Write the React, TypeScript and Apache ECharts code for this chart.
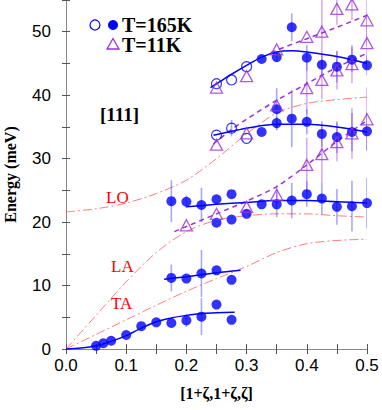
import React, { useEffect, useRef } from "react";
import * as echarts from "echarts";

// [x, energy, error]
const openCircles165K = [
  [0.25, 41.8, 0], [0.275, 42.4, 0], [0.3, 44.5, 0],
  [0.25, 33.7, 0], [0.275, 34.8, 1.3], [0.3, 33.2, 0],
];
const filledUpper165K = [
  [0.325, 45.7, 0], [0.35, 46.0, 0.8], [0.375, 50.7, 2.2], [0.4, 45.9, 2.0],
  [0.425, 44.8, 1.5], [0.45, 44.5, 2.5], [0.475, 45.6, 2.0], [0.5, 44.7, 1.5],
];
const filledMiddle165K = [
  [0.325, 34.2, 0], [0.35, 35.6, 1.0], [0.35, 37.8, 3.3], [0.375, 36.3, 4.5],
  [0.4, 35.8, 2.0], [0.425, 33.9, 2.0], [0.45, 33.4, 2.5], [0.475, 34.2, 3.0], [0.5, 34.3, 3.0],
];
const filledLO165K = [
  [0.175, 23.3, 3.3], [0.2, 23.2, 1.0], [0.225, 22.7, 2.7], [0.25, 23.6, 0], [0.275, 24.4, 0],
  [0.25, 19.9, 0], [0.275, 20.4, 0], [0.3, 21.3, 0], [0.325, 22.8, 0], [0.35, 22.8, 2.0],
  [0.375, 23.4, 2.8], [0.4, 24.4, 2.0], [0.425, 23.7, 2.5], [0.45, 22.4, 2.8], [0.475, 22.5, 4.0],
  [0.5, 23.0, 4.0],
];
const filledLA165K = [
  [0.175, 11.2, 2.1], [0.2, 11.1, 0], [0.225, 11.9, 3.7], [0.25, 12.4, 0], [0.275, 10.9, 0],
];
const filledTA165K = [
  [0.05, 0.5, 0], [0.062, 0.9, 0], [0.075, 1.3, 0], [0.1, 2.2, 0], [0.125, 3.6, 0],
  [0.15, 4.2, 0], [0.175, 4.1, 0], [0.2, 4.5, 1.0], [0.225, 5.1, 2.9], [0.25, 7.0, 0], [0.275, 4.6, 0],
];
const triangles11K = [
  [0.2, 19.5, 0], [0.25, 21.3, 0], [0.3, 22.4, 0], [0.35, 24.3, 1.5], [0.4, 29.0, 4.3],
  [0.425, 30.7, 4.5], [0.45, 32.6, 3.0], [0.475, 34.0, 4.0], [0.5, 36.2, 5.0],
  [0.25, 32.2, 0], [0.3, 34.0, 0], [0.35, 38.4, 0], [0.4, 41.1, 4.0], [0.425, 42.4, 3.0],
  [0.45, 43.9, 3.0], [0.475, 44.9, 3.0], [0.5, 48.2, 4.0],
  [0.25, 41.2, 0], [0.3, 43.0, 0], [0.35, 47.2, 0], [0.4, 49.2, 0], [0.425, 50.0, 5.5],
  [0.45, 53.6, 2.5], [0.475, 54.3, 2.5], [0.5, 51.8, 4.0],
];

// fitted curves
const fitUpper = [[0.24, 41.2], [0.25, 41.8], [0.275, 43.3], [0.3, 44.7], [0.325, 46.0], [0.35, 46.8], [0.375, 47.0], [0.4, 46.8], [0.45, 46.1], [0.5, 45.0]];
const fitMiddle = [[0.245, 33.7], [0.275, 34.3], [0.3, 34.8], [0.35, 35.4], [0.4, 35.4], [0.45, 35.0], [0.5, 34.2]];
const fitLO = [[0.2, 22.4], [0.25, 22.8], [0.3, 23.1], [0.35, 23.4], [0.4, 23.4], [0.45, 23.2], [0.5, 23.0]];
const fitLA = [[0.163, 11.0], [0.2, 11.4], [0.25, 12.0], [0.29, 12.4]];
const fitTA = [[0, 0], [0.025, 0.15], [0.05, 0.5], [0.075, 1.2], [0.1, 2.1], [0.125, 3.3], [0.15, 4.3], [0.175, 4.9], [0.2, 5.3], [0.225, 5.6], [0.25, 5.7], [0.28, 5.8]];

const dashLow11K = [[0.18, 18.5], [0.2, 19.3], [0.25, 21.3], [0.3, 23.3], [0.35, 25.6], [0.4, 29.0], [0.45, 32.7], [0.5, 36.0]];
const dashMid11K = [[0.245, 32.3], [0.275, 34.6], [0.3, 36.2], [0.35, 39.2], [0.4, 41.8], [0.45, 44.4], [0.5, 46.6]];
const dashTop11K = [[0.34, 46.7], [0.35, 47.1], [0.4, 48.9], [0.45, 50.7], [0.5, 52.6]];

// model dispersions
const modelTA = [[0, 0], [0.05, 2.3], [0.1, 4.6], [0.15, 6.9], [0.2, 9.1], [0.25, 11.1], [0.3, 13.0], [0.35, 15.2], [0.4, 16.6], [0.45, 17.1], [0.5, 17.3]];
const modelLA = [[0, 0], [0.05, 5.3], [0.1, 10.6], [0.15, 15.2], [0.2, 18.5], [0.25, 20.3], [0.3, 21.0], [0.35, 21.3], [0.4, 21.3], [0.45, 21.0], [0.5, 20.8]];
const modelLO = [[0, 21.6], [0.05, 22.1], [0.1, 23.0], [0.15, 24.5], [0.2, 26.6], [0.25, 30.0], [0.3, 33.9], [0.35, 37.2], [0.4, 38.7], [0.45, 39.3], [0.5, 39.7]];

const BLUE = "#0000ff";
const PURPLE = "#9b30d8";
const RED = "rgba(255,80,80,0.75)";
const SERIF = "Liberation Serif";
const SANS = "Liberation Sans";

function errSeries(data: number[][], color: string) {
  return {
    type: "custom",
    clip: true,
    z: 1,
    data: data.filter((d) => d[2] > 0),
    encode: { x: 0, y: 1 },
    renderItem: (params: any, api: any) => {
      const x = api.value(0), y = api.value(1), e = api.value(2);
      const p1 = api.coord([x, y - e]);
      const p2 = api.coord([x, y + e]);
      return {
        type: "line",
        shape: { x1: p1[0], y1: p1[1], x2: p2[0], y2: p2[1] },
        style: { stroke: color, lineWidth: 1.6 },
      };
    },
  };
}

function lineSeries(data: number[][], color: string, width: number, type: any, z: number) {
  return {
    type: "line",
    data,
    showSymbol: false,
    smooth: 0.3,
    z,
    lineStyle: { color, width, type },
  };
}

export default function App() {
  const ref = useRef<HTMLDivElement>(null);
  useEffect(() => {
    if (!ref.current) return;
    document.body.style.margin = "0";
    const chart = echarts.init(ref.current, null, { renderer: "svg" });
    const filledAll = [...filledUpper165K, ...filledMiddle165K, ...filledLO165K, ...filledLA165K, ...filledTA165K];
    const axisCommon = {
      type: "value",
      axisLine: { show: true, lineStyle: { color: "#888", width: 1 } },
      axisTick: { show: true, inside: true, length: 5, lineStyle: { color: "#555" } },
      minorTick: { show: true, splitNumber: 2, length: 5, lineStyle: { color: "#555" } },
      splitLine: { show: false },
    };
    chart.setOption({
      animation: false,
      grid: { left: 66, right: 15, top: 0, bottom: 61, containLabel: false, outerBoundsMode: "none" },
      xAxis: [
        {
          ...axisCommon,
          min: 0, max: 0.5, interval: 0.1,
          position: "bottom",
          axisLabel: { color: "#000", fontFamily: SANS, fontSize: 17, margin: 8, formatter: (v: number) => v.toFixed(1) },
          name: "[1+ζ,1+ζ,ζ]",
          nameLocation: "middle",
          nameGap: 36,
          nameTextStyle: { fontFamily: SERIF, fontWeight: "bold", fontSize: 16, color: "#000" },
        },
        { ...axisCommon, min: 0, max: 0.5, interval: 0.1, position: "top", axisLabel: { show: false } },
      ],
      yAxis: [
        {
          ...axisCommon,
          min: 0, max: 55, interval: 10,
          position: "left",
          axisTick: { show: true, inside: true, length: 4, lineStyle: { color: "#555" } },
          minorTick: { show: true, splitNumber: 2, length: 4, lineStyle: { color: "#555" } },
          axisLabel: { color: "#000", fontFamily: SANS, fontSize: 17, margin: 15, showMaxLabel: false },
          name: "Energy (meV)",
          nameLocation: "middle",
          nameRotate: 90,
          nameGap: 48,
          nameTextStyle: { fontFamily: SERIF, fontWeight: "bold", fontSize: 16, color: "#000" },
        },
        {
          ...axisCommon,
          min: 0, max: 55, interval: 10,
          position: "right",
          axisTick: { show: true, inside: true, length: 4, lineStyle: { color: "#555" } },
          minorTick: { show: true, splitNumber: 2, length: 4, lineStyle: { color: "#555" } },
          axisLabel: { show: false },
        },
      ],
      series: [
        lineSeries(modelTA, RED, 1, [9, 3, 2, 3], 0),
        lineSeries(modelLA, RED, 1, [9, 3, 2, 3], 0),
        lineSeries(modelLO, RED, 1, [9, 3, 2, 3], 0),
        errSeries([...filledAll, ...openCircles165K], "rgba(60,60,255,0.45)"),
        errSeries(triangles11K, "rgba(170,70,220,0.45)"),
        lineSeries(dashLow11K, PURPLE, 1.5, [5, 4], 2),
        lineSeries(dashMid11K, PURPLE, 1.5, [5, 4], 2),
        lineSeries(dashTop11K, PURPLE, 1.5, [5, 4], 2),
        lineSeries(fitUpper, BLUE, 1.5, "solid", 2),
        lineSeries(fitMiddle, BLUE, 1.5, "solid", 2),
        lineSeries(fitLO, BLUE, 1.5, "solid", 2),
        lineSeries(fitLA, BLUE, 1.5, "solid", 2),
        lineSeries(fitTA, BLUE, 1.5, "solid", 2),
        {
          type: "scatter", z: 3, symbol: "circle", symbolSize: 10,
          data: filledAll.map((d) => [d[0], d[1]]),
          itemStyle: { color: BLUE },
        },
        {
          type: "scatter", z: 4, symbol: "circle", symbolSize: 10,
          data: openCircles165K.map((d) => [d[0], d[1]]),
          itemStyle: { color: "transparent", borderColor: BLUE, borderWidth: 1.2 },
        },
        {
          type: "scatter", z: 5, symbol: "triangle", symbolSize: [12, 11],
          data: triangles11K.map((d) => [d[0], d[1]]),
          itemStyle: { color: "transparent", borderColor: PURPLE, borderWidth: 1.3 },
        },
      ],
      graphic: [
        { type: "circle", shape: { cx: 95, cy: 25, r: 5 }, style: { fill: "none", stroke: BLUE, lineWidth: 1.2 } },
        { type: "circle", shape: { cx: 113, cy: 25, r: 5 }, style: { fill: BLUE } },
        { type: "text", x: 122, y: 24.5, style: { text: "T=165K", font: `bold 20px ${SERIF}`, fill: "#000", verticalAlign: "middle" } },
        { type: "polygon", shape: { points: [[107, 49], [113, 38.5], [119, 49]] }, style: { fill: "none", stroke: PURPLE, lineWidth: 1.3 } },
        { type: "text", x: 122, y: 44.5, style: { text: "T=11K", font: `bold 20px ${SERIF}`, fill: "#000", verticalAlign: "middle" } },
        { type: "text", x: 100, y: 114, style: { text: "[111]", font: `bold 19px ${SERIF}`, fill: "#000", verticalAlign: "middle" } },
        { type: "text", x: 106, y: 197, style: { text: "LO", font: `17px ${SERIF}`, fill: "#ff0000", verticalAlign: "middle" } },
        { type: "text", x: 111, y: 266, style: { text: "LA", font: `17px ${SERIF}`, fill: "#ff0000", verticalAlign: "middle" } },
        { type: "text", x: 111, y: 303, style: { text: "TA", font: `17px ${SERIF}`, fill: "#ff0000", verticalAlign: "middle" } },
      ],
    });
    return () => chart.dispose();
  }, []);
  return <div ref={ref} style={{ width: 382, height: 410 }} />;
}
